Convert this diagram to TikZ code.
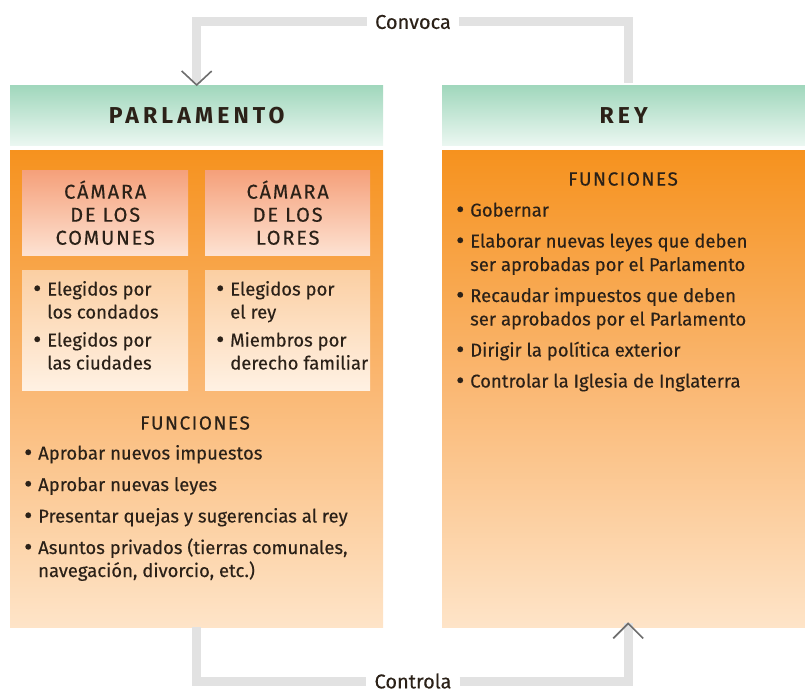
\documentclass[tikz,border=0pt]{standalone}
\usepackage{fontspec}
\setmainfont{Fira Sans}
\usetikzlibrary{calc}
\definecolor{greenTop}{HTML}{A0D7BC}
\definecolor{greenBot}{HTML}{EBF7F1}
\definecolor{orTop}{HTML}{F6921E}
\definecolor{orMid}{HTML}{FAB874}
\definecolor{orBot}{HTML}{FEE4C8}
\definecolor{pinkTop}{HTML}{F5A07A}
\definecolor{pinkBot}{HTML}{FDE2D2}
\definecolor{peachTop}{HTML}{FBCFA3}
\definecolor{peachBot}{HTML}{FFF1E3}
\definecolor{lineGray}{HTML}{E2E2E2}
\definecolor{lineDark}{HTML}{A9A9A9}
\definecolor{tipGray}{HTML}{6E6E6E}
\definecolor{ink}{HTML}{2B2118}
\newcommand\bitem[1]{\par\hangindent=14pt\hangafter=1\noindent\makebox[14pt][l]{\raisebox{-1.3pt}{\scalebox{1.35}{\textbullet}}}#1}
\newcommand\blist[4]{\parbox[t]{#1}{\fontsize{18.5}{#2}\selectfont\addfontfeatures{FakeBold=0.3}\hyphenpenalty=10000\setlength\parskip{#3}#4}}
\tikzset{
  headbox/.style={anchor=north west, inner sep=0pt, top color=greenTop, bottom color=greenBot,
    font=\fontsize{23}{26}\selectfont\bfseries\addfontfeatures{LetterSpace=18}, text=ink},
  bodybox/.style={anchor=north west, inner sep=0pt, shading=axis, top color=orTop, bottom color=orBot, middle color=orMid},
  camhead/.style={anchor=north west, inner sep=0pt, top color=pinkTop, bottom color=pinkBot,
    align=center, text=ink, font=\fontsize{20}{23}\selectfont\addfontfeatures{LetterSpace=9,FakeBold=0.3}},
  cambody/.style={anchor=north west, inner sep=0pt, top color=peachTop, bottom color=peachBot},
  listnode/.style={anchor=base west, inner sep=0pt, text=ink},
  captitle/.style={inner sep=0pt, text=ink, font=\fontsize{19}{22}\selectfont\addfontfeatures{LetterSpace=8,FakeBold=0.3}},
  conlabel/.style={inner xsep=8pt, inner ysep=2pt, text=ink, font=\fontsize{20}{24}\selectfont\addfontfeatures{FakeBold=0.3}},
  conn/.style={draw=lineGray, line width=9pt},
  tipv/.style={draw=tipGray, line width=1.6pt, line join=miter}
}
\begin{document}
\begin{tikzpicture}[x=1pt,y=-1pt]
\useasboundingbox (0,0) rectangle (805,693);
% main boxes
\node[headbox, minimum width=373pt, minimum height=60pt] (parlhead) at (10,85) {PARLAMENTO};
\node[bodybox, minimum width=373pt, minimum height=477pt] (parlbody) at (10,150) {};
\node[headbox, minimum width=363pt, minimum height=60pt] (reyhead) at (442,85) {REY};
\node[bodybox, minimum width=363pt, minimum height=477pt] (reybody) at (442,150) {};
% chambers
\node[camhead, minimum width=166pt, minimum height=85pt] (comhead) at (22,170) {CÁMARA\\DE LOS\\COMUNES};
\node[camhead, minimum width=165pt, minimum height=85pt] (lorhead) at (205,170) {CÁMARA\\DE LOS\\LORES};
\node[cambody, minimum width=166pt, minimum height=120pt] (combody) at (22,270) {};
\node[cambody, minimum width=165pt, minimum height=120pt] (lorbody) at (205,270) {};
\node[listnode] (comlist) at (33,295.5) {\blist{200pt}{23pt}{5pt}{%
  \bitem{Elegidos por\newline los condados}
  \bitem{Elegidos por\newline las ciudades}}};
\node[listnode] (lorlist) at (216,295.5) {\blist{200pt}{23pt}{5pt}{%
  \bitem{Elegidos por\newline el rey}
  \bitem{Miembros por\newline derecho familiar}}};
% functions parliament
\node[captitle] (parlfun) at (195,423) {FUNCIONES};
\node[listnode] (parlfunlist) at (24,459.5) {\blist{380pt}{23pt}{8.5pt}{%
  \bitem{Aprobar nuevos impuestos}
  \bitem{Aprobar nuevas leyes}
  \bitem{Presentar quejas y sugerencias al rey}
  \bitem{Asuntos privados (tierras comunales,\newline navegación, divorcio, etc.)}}};
% functions king
\node[captitle] (reyfun) at (623,179) {FUNCIONES};
\node[listnode] (reyfunlist) at (456,216.5) {\blist{345pt}{23.5pt}{7.5pt}{%
  \bitem{Gobernar}
  \bitem{Elaborar nuevas leyes que deben\newline ser aprobadas por el Parlamento}
  \bitem{Recaudar impuestos que deben\newline ser aprobados por el Parlamento}
  \bitem{Dirigir la política exterior}
  \bitem{Controlar la Iglesia de Inglaterra}}};
% connector labels
\node[conlabel] (convoca) at (413,22) {Convoca};
\node[conlabel] (controla) at (413,681) {Controla};
% connector points
\coordinate (rtop) at ([shift={(4.5,-2)}]reyhead.north);
\coordinate (ptip) at ([shift={(0,-2)}]parlhead.north);
\coordinate (pbot) at (parlbody.south);
\coordinate (rtip) at ([shift={(4.5,-4)}]reybody.south);
% top connector
\draw[conn] (rtop) |- (convoca.east);
\draw[conn] (convoca.west) -| (ptip);
\shade[left color=lineGray, right color=lineDark!80, middle color=lineDark] ([shift={(9,-4.5)}]ptip |- convoca.west) rectangle ([yshift=4.5]convoca.west);
\shade[left color=lineDark, right color=lineGray] ([yshift=-4.5]convoca.east) rectangle ([shift={(-9,4.5)}]rtop |- convoca.east);
% bottom connector
\draw[conn] (pbot) |- (controla.west);
\draw[conn] (controla.east) -| (rtip);
\shade[left color=lineGray, right color=lineDark!80, middle color=lineDark] ([shift={(9,-4.5)}]pbot |- controla.west) rectangle ([yshift=4.5]controla.west);
\shade[left color=lineDark, right color=lineGray] ([yshift=-4.5]controla.east) rectangle ([shift={(-9,4.5)}]rtip |- controla.east);
% arrow tips
\draw[tipv] ([shift={(-15,-14)}]parlhead.north) -- (parlhead.north) -- ([shift={(15,-14)}]parlhead.north);
\draw[tipv] ([shift={(-15,15)}]rtip) -- (rtip) -- ([shift={(15,15)}]rtip);
\end{tikzpicture}
\end{document}
